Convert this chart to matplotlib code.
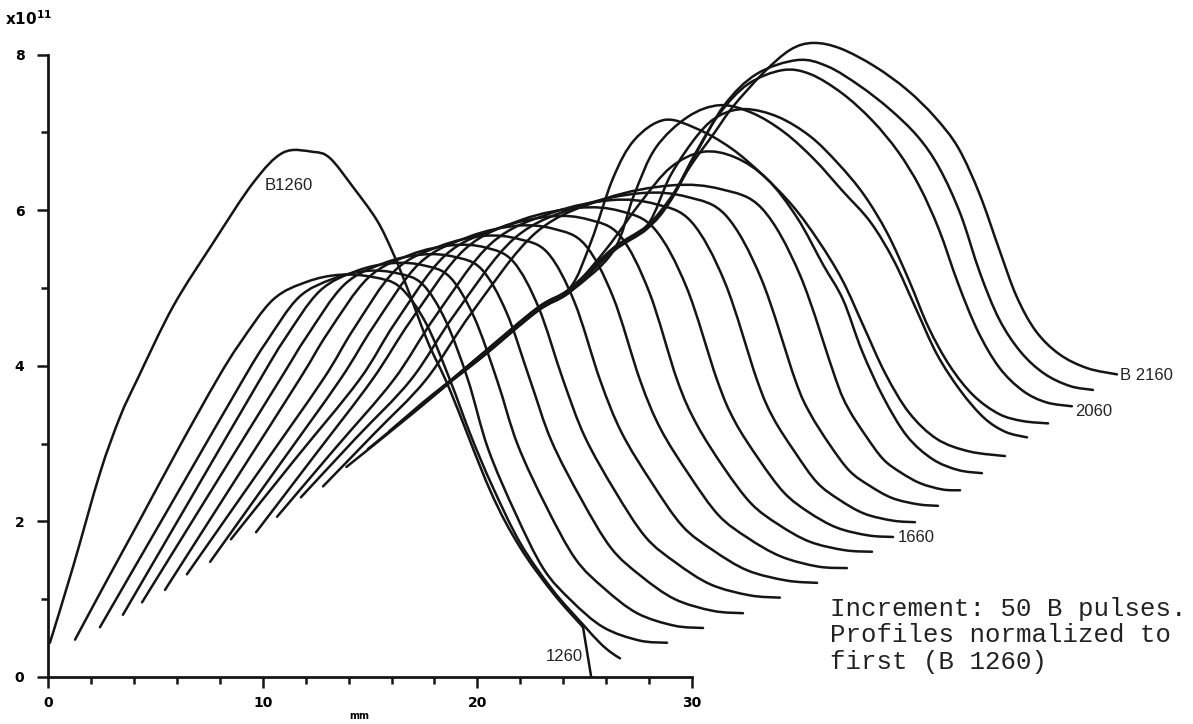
import matplotlib.pyplot as plt
import numpy as np
from matplotlib.path import Path
from matplotlib.patches import PathPatch

# density profiles (x10^11), x in mm
# B 1260 as measured
b1260_x = [0.09, 1.16, 2.42, 3.35, 4.15, 5.82, 7.69, 9.55, 10.95, 12.34, 13.13, 14.2, 15.32, 16.07, 16.72, 17.7, 18.72, 20.59, 21.98, 23.52, 24.92, 25.3]
b1260_y = [0.44, 1.41, 2.62, 3.34, 3.82, 4.76, 5.58, 6.35, 6.74, 6.75, 6.67, 6.3, 5.87, 5.45, 5.01, 4.3, 3.69, 2.40, 1.67, 1.08, 0.64, 0.0]

# normalized profiles, 50 B pulses apart
p1260_x = [1.26, 2.7, 4.3, 6.1, 7.87, 8.94, 10.48, 12.06, 13.6, 15.14, 16.4, 17.6, 18.72, 19.7, 20.7, 22.0, 23.5, 24.9, 25.7, 26.2, 26.64]
p1260_y = [0.48, 1.22, 2.03, 2.95, 3.82, 4.29, 4.85, 5.08, 5.17, 5.14, 5.01, 4.55, 3.82, 3.1, 2.45, 1.72, 1.12, 0.68, 0.44, 0.32, 0.24]
p1310_x = [2.42, 5.75, 9.08, 10.18, 11.68, 13.29, 14.85, 16.26, 17.44, 18.52, 19.56, 20.49, 21.78, 23.08, 24.38, 25.86, 27.53, 28.83]
p1310_y = [0.64, 2.23, 3.82, 4.31, 4.88, 5.12, 5.22, 5.19, 5.05, 4.58, 3.82, 2.94, 2.10, 1.39, 0.98, 0.64, 0.47, 0.44]
p1360_x = [3.49, 6.68, 9.87, 11.04, 12.65, 14.38, 16.05, 17.51, 18.72, 19.84, 20.91, 21.87, 23.21, 24.56, 25.90, 27.44, 29.17, 30.51]
p1360_y = [0.80, 2.31, 3.82, 4.35, 4.96, 5.22, 5.32, 5.29, 5.14, 4.63, 3.82, 2.99, 2.19, 1.52, 1.14, 0.82, 0.66, 0.63]
p1410_x = [4.38, 7.59, 10.8, 12.06, 13.79, 15.65, 17.44, 18.94, 20.20, 21.35, 22.45, 23.44, 24.83, 26.22, 27.61, 29.2, 30.98, 32.37]
p1410_y = [0.96, 2.39, 3.82, 4.38, 5.04, 5.32, 5.43, 5.40, 5.24, 4.69, 3.82, 3.04, 2.29, 1.66, 1.30, 1.0, 0.85, 0.82]
p1460_x = [5.45, 8.58, 11.7, 13.05, 14.91, 16.9, 18.83, 20.38, 21.67, 22.85, 23.99, 25.0, 26.41, 27.83, 29.24, 30.86, 32.68, 34.09]
p1460_y = [1.12, 2.47, 3.82, 4.43, 5.13, 5.43, 5.55, 5.52, 5.34, 4.75, 3.82, 3.09, 2.39, 1.80, 1.47, 1.19, 1.05, 1.02]
p1510_x = [6.47, 9.64, 12.8, 14.23, 16.18, 18.28, 20.3, 21.92, 23.28, 24.52, 25.71, 26.72, 28.14, 29.55, 30.97, 32.58, 34.40, 35.82]
p1510_y = [1.32, 2.57, 3.82, 4.47, 5.23, 5.54, 5.67, 5.63, 5.45, 4.82, 3.82, 3.14, 2.49, 1.94, 1.63, 1.37, 1.24, 1.21]
p1560_x = [7.55, 10.58, 13.6, 15.17, 17.31, 19.62, 21.84, 23.56, 25.0, 26.31, 27.57, 28.53, 29.88, 31.23, 32.58, 34.13, 35.86, 37.21]
p1560_y = [1.48, 2.65, 3.82, 4.51, 5.32, 5.66, 5.80, 5.76, 5.56, 4.89, 3.82, 3.19, 2.59, 2.08, 1.79, 1.55, 1.42, 1.40]
p1610_x = [8.52, 11.51, 14.5, 16.19, 18.5, 21.0, 23.4, 25.17, 26.65, 28.0, 29.30, 30.21, 31.48, 32.75, 34.02, 35.47, 37.11, 38.38]
p1610_y = [1.77, 2.80, 3.82, 4.56, 5.42, 5.77, 5.92, 5.88, 5.67, 4.95, 3.82, 3.25, 2.69, 2.23, 1.96, 1.74, 1.63, 1.61]
p1660_x = [9.69, 12.4, 15.1, 16.92, 19.42, 22.1, 24.7, 26.64, 28.25, 29.74, 31.16, 31.98, 33.13, 34.28, 35.42, 36.74, 38.21, 39.36]
p1660_y = [1.86, 2.84, 3.82, 4.59, 5.50, 5.88, 6.03, 5.99, 5.76, 5.01, 3.82, 3.29, 2.79, 2.37, 2.12, 1.92, 1.82, 1.80]
p1710_x = [10.67, 13.38, 16.1, 18.03, 20.67, 23.51, 26.25, 28.28, 29.97, 31.53, 33.02, 33.76, 34.79, 35.82, 36.85, 38.02, 39.35, 40.38]
p1710_y = [2.06, 2.94, 3.82, 4.63, 5.58, 5.97, 6.13, 6.08, 5.85, 5.07, 3.82, 3.34, 2.89, 2.50, 2.28, 2.10, 2.01, 1.99]
p1760_x = [11.78, 14.34, 16.9, 18.94, 21.73, 24.74, 27.64, 29.79, 31.58, 33.22, 34.8, 35.47, 36.4, 37.33, 38.26, 39.32, 40.52, 41.45]
p1760_y = [2.31, 3.07, 3.82, 4.66, 5.64, 6.05, 6.22, 6.17, 5.93, 5.12, 3.82, 3.40, 2.99, 2.65, 2.46, 2.30, 2.22, 2.20]
p1810_x = [12.81, 15.2, 17.6, 19.78, 22.76, 25.97, 29.06, 31.35, 33.26, 35.02, 36.7, 37.28, 38.09, 38.9, 39.71, 40.63, 41.67, 42.48]
p1810_y = [2.45, 3.13, 3.82, 4.70, 5.72, 6.15, 6.32, 6.27, 6.02, 5.17, 3.82, 3.45, 3.10, 2.80, 2.63, 2.49, 2.41, 2.40]
p1860_x = [13.9, 17.0, 20.12, 22.78, 24.31, 26.0, 27.6, 29.0, 30.5, 32.0, 33.5, 34.9, 36.1, 37.03, 37.9, 38.9, 40.0, 41.2, 42.4, 43.5]
p1860_y = [2.70, 3.39, 4.11, 4.72, 4.97, 5.5, 6.1, 6.55, 6.75, 6.68, 6.4, 5.9, 5.3, 4.85, 4.2, 3.6, 3.1, 2.8, 2.66, 2.62]
p1910_x = [14.9, 17.5, 20.12, 22.78, 24.31, 25.3, 26.3, 27.3, 28.7, 30.2, 31.8, 33.3, 34.7, 35.9, 37.0, 38.0, 39.0, 40.1, 41.4, 42.9, 44.57]
p1910_y = [2.93, 3.52, 4.13, 4.74, 5.0, 5.6, 6.4, 6.9, 7.16, 7.05, 6.8, 6.45, 6.05, 5.6, 5.1, 4.5, 3.9, 3.4, 3.06, 2.9, 2.84]
p1960_x = [15.9, 18.0, 20.12, 22.78, 24.31, 26.32, 27.3, 28.3, 29.8, 31.3, 32.8, 34.3, 35.7, 37.0, 38.3, 39.4, 40.4, 41.4, 42.5, 43.6, 44.6, 45.6]
p1960_y = [3.16, 3.65, 4.09, 4.70, 4.95, 5.47, 6.2, 6.8, 7.2, 7.35, 7.25, 7.0, 6.65, 6.25, 5.85, 5.35, 4.75, 4.15, 3.68, 3.33, 3.15, 3.08]
p2010_x = [16.9, 20.12, 22.78, 24.31, 26.32, 27.9, 29.0, 30.3, 31.3, 32.5, 34.0, 35.5, 36.8, 38.0, 39.1, 40.1, 41.0, 42.0, 43.1, 44.3, 45.4, 46.58]
p2010_y = [3.38, 4.13, 4.74, 4.99, 5.51, 5.80, 6.45, 6.98, 7.22, 7.3, 7.2, 6.95, 6.6, 6.2, 5.7, 5.1, 4.5, 4.0, 3.62, 3.38, 3.29, 3.26]
p2060_x = [17.9, 20.12, 22.78, 24.31, 26.32, 27.9, 28.97, 30.23, 31.3, 32.6, 34.2, 35.5, 37.0, 38.4, 39.6, 40.6, 41.5, 42.4, 43.3, 44.3, 45.4, 46.5, 47.69]
p2060_y = [3.61, 4.11, 4.72, 4.97, 5.49, 5.78, 6.13, 6.77, 7.25, 7.62, 7.8, 7.75, 7.5, 7.15, 6.75, 6.3, 5.75, 5.05, 4.45, 3.98, 3.68, 3.53, 3.48]
p2110_x = [18.9, 20.12, 22.78, 24.31, 26.32, 27.9, 28.97, 30.23, 31.5, 33.0, 34.9, 36.3, 37.8, 39.2, 40.5, 41.5, 42.5, 43.4, 44.3, 45.3, 46.4, 47.6, 48.67]
p2110_y = [3.83, 4.09, 4.70, 4.95, 5.47, 5.76, 6.11, 6.75, 7.35, 7.75, 7.93, 7.85, 7.6, 7.3, 6.95, 6.55, 5.95, 5.2, 4.6, 4.18, 3.9, 3.74, 3.69]
p2160_x = [19.9, 22.78, 24.31, 26.32, 27.9, 28.97, 30.0, 31.0, 31.9, 33.3, 34.56, 35.63, 36.9, 38.5, 40.0, 41.3, 42.4, 43.4, 44.3, 45.1, 46.0, 47.1, 48.4, 49.79]
p2160_y = [4.06, 4.74, 4.99, 5.51, 5.80, 6.15, 6.6, 6.98, 7.33, 7.76, 8.06, 8.15, 8.08, 7.85, 7.55, 7.2, 6.8, 6.2, 5.5, 4.9, 4.45, 4.15, 3.97, 3.89]

profiles = [
    (p1260_x, p1260_y), (p1310_x, p1310_y), (p1360_x, p1360_y), (p1410_x, p1410_y),
    (p1460_x, p1460_y), (p1510_x, p1510_y), (p1560_x, p1560_y), (p1610_x, p1610_y),
    (p1660_x, p1660_y), (p1710_x, p1710_y), (p1760_x, p1760_y), (p1810_x, p1810_y),
    (p1860_x, p1860_y), (p1910_x, p1910_y), (p1960_x, p1960_y), (p2010_x, p2010_y),
    (p2060_x, p2060_y), (p2110_x, p2110_y), (p2160_x, p2160_y),
]

ink = '#151515'


def smooth_path(xs, ys):
    # bezier path through the read points (catmull-rom handles), drawn by matplotlib
    pts = np.column_stack([xs, ys]).astype(float)
    n = len(pts)
    verts = [pts[0]]
    codes = [Path.MOVETO]
    for i in range(n - 1):
        p0 = pts[i - 1] if i > 0 else pts[i]
        p1 = pts[i]
        p2 = pts[i + 1]
        p3 = pts[i + 2] if i + 2 < n else pts[i + 1]
        verts += [p1 + (p2 - p0) / 6, p2 - (p3 - p1) / 6, p2]
        codes += [Path.CURVE4] * 3
    return Path(verts, codes)


fig = plt.figure(figsize=(11.93, 7.24), dpi=100)
ax = fig.add_axes([48/1193, 47/724, 1142/1193, 657/724])

# B 1260: smooth up to the kink, then straight drop to the axis
ax.add_patch(PathPatch(smooth_path(b1260_x[:-1], b1260_y[:-1]), fill=False, edgecolor=ink, lw=1.8,
                       joinstyle='round', capstyle='round'))
ax.plot(b1260_x[-2:], b1260_y[-2:], color=ink, lw=1.8)
for xs, ys in profiles:
    ax.add_patch(PathPatch(smooth_path(xs, ys), fill=False, edgecolor=ink, lw=1.8,
                           joinstyle='round', capstyle='round'))

ax.set_xlim(0, 53.19)
ax.set_ylim(0, 8.445)

for s in ['top', 'right']:
    ax.spines[s].set_visible(False)
ax.spines['left'].set_bounds(0, 8)
ax.spines['bottom'].set_bounds(0, 30)
ax.spines['left'].set_linewidth(2.0)
ax.spines['bottom'].set_linewidth(2.0)
ax.spines['left'].set_color(ink)
ax.spines['bottom'].set_color(ink)

ax.set_xticks([0, 10, 20, 30])
ax.set_xticks(np.arange(0, 31, 2), minor=True)
ax.set_yticks([0, 2, 4, 6, 8])
ax.set_yticks(np.arange(0, 9, 1), minor=True)
ax.tick_params(which='major', direction='out', length=8, width=1.8, color=ink, labelsize=10, pad=6)
ax.tick_params(which='minor', direction='out', length=5, width=1.8, color=ink)
ax.tick_params(axis='y', which='major', pad=9)
for lab in ax.get_xticklabels() + ax.get_yticklabels():
    lab.set_fontweight('bold')

fig.text(5/1193, 1 - 25/724, r'$\mathbf{x10^{11}}$', fontsize=11, va='baseline', ha='left')
ax.text(14.5, -0.5, 'mm', ha='center', va='center', fontsize=7, fontweight='bold', clip_on=False)

lab_font = dict(family='Liberation Sans', fontsize=12, color='#222222')
ax.text(10.1, 6.32, 'B1260', ha='left', va='center', **lab_font)
ax.text(24.9, 0.26, '1260', ha='right', va='center', **lab_font)
ax.text(39.6, 1.79, '1660', ha='left', va='center', **lab_font)
ax.text(47.85, 3.41, '2060', ha='left', va='center', **lab_font)
ax.text(49.95, 3.87, 'B 2160', ha='left', va='center', **lab_font)

fig.text(830/1193, 1 - 597/724, 'Increment: 50 B pulses.\nProfiles normalized to\nfirst (B 1260)',
         family='Liberation Mono', fontsize=18.5, va='top', ha='left', linespacing=1.12, color='#222222')

plt.savefig('out.png', dpi=100)
